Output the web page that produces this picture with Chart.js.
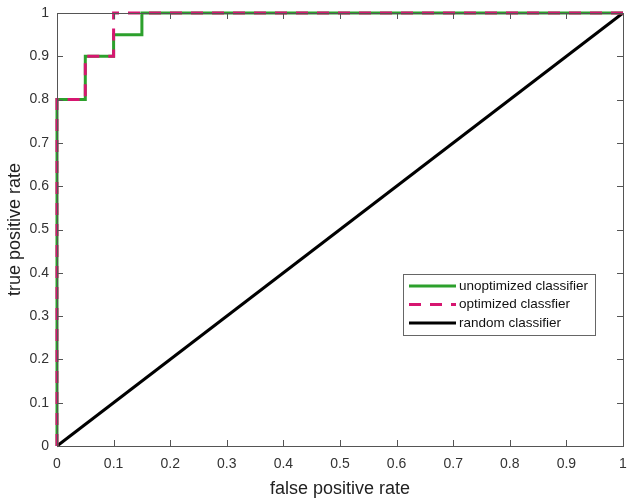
<!DOCTYPE html>
<html>
<head>
<meta charset="utf-8">
<script src="https://cdn.jsdelivr.net/npm/chart.js@4.4.1/dist/chart.umd.min.js"></script>
<style>
  html, body { margin: 0; padding: 0; background: #fff; }
  #wrap { width: 640px; height: 504px; }
</style>
</head>
<body>
<div id="wrap"><canvas id="roc" width="640" height="504"></canvas></div>
<script>
// roc curves
var unoptFpr = [0, 0, 0.05, 0.05, 0.1, 0.1, 0.15, 0.15, 1];
var unoptTpr = [0, 0.8, 0.8, 0.9, 0.9, 0.95, 0.95, 1, 1];
var optFpr = [0, 0, 0.05, 0.05, 0.1, 0.1, 1];
var optTpr = [0, 0.8, 0.8, 0.9, 0.9, 1, 1];
var randFpr = [0, 1];
var randTpr = [0, 1];
var tickValues = [0, 0.1, 0.2, 0.3, 0.4, 0.5, 0.6, 0.7, 0.8, 0.9, 1];
var seriesNames = ['unoptimized classifier', 'optimized classfier', 'random classifier'];

var green = 'rgb(44,160,44)';
var pink = 'rgb(214,22,112)';
var FONT = '"Liberation Sans", Arial, sans-serif';

function pts(xs, ys) {
	var out = [];
	for (var i = 0; i < xs.length; i++) {
		out.push({ x: xs[i], y: ys[i] });
	}
	return out;
}

// matlab style box + inward ticks + legend
var boxPlugin = {
	id: 'box',
	afterDraw: function (chart) {
		var c = chart.ctx, a = chart.chartArea;
		var xs = chart.scales.x, ys = chart.scales.y;
		c.save();
		c.strokeStyle = '#555';
		c.lineWidth = 1;
		c.strokeRect(a.left + 0.5, a.top + 0.5, a.right - a.left, a.bottom - a.top);
		c.beginPath();
		tickValues.forEach(function (v) {
			var px = Math.round(xs.getPixelForValue(v)) + 0.5;
			c.moveTo(px, a.bottom); c.lineTo(px, a.bottom - 6);
			c.moveTo(px, a.top); c.lineTo(px, a.top + 6);
			var py = Math.round(ys.getPixelForValue(v)) + 0.5;
			c.moveTo(a.left, py); c.lineTo(a.left + 6, py);
			c.moveTo(a.right, py); c.lineTo(a.right - 6, py);
		});
		c.stroke();

		// legend
		var lx = 403, ly = 274, lw = 192, lh = 61;
		c.fillStyle = '#fff';
		c.fillRect(lx, ly, lw, lh);
		c.strokeStyle = '#666';
		c.strokeRect(lx + 0.5, ly + 0.5, lw, lh);
		var styles = [
			{ color: green, dash: [] },
			{ color: pink, dash: [12, 9] },
			{ color: '#000', dash: [] }
		];
		c.font = '13.5px ' + FONT;
		c.textBaseline = 'middle';
		for (var i = 0; i < 3; i++) {
			var yy = ly + 12 + i * 18.5;
			c.beginPath();
			c.setLineDash(styles[i].dash);
			c.strokeStyle = styles[i].color;
			c.lineWidth = 3;
			c.moveTo(lx + 6, yy); c.lineTo(lx + 53, yy);
			c.stroke();
			c.setLineDash([]);
			c.fillStyle = '#111';
			c.fillText(seriesNames[i], lx + 56, yy);
		}
		c.restore();
	}
};

var ctx = document.getElementById('roc').getContext('2d');
var rocChart = new Chart(ctx, {
	type: 'scatter',
	data: {
		datasets: [
			{
				label: seriesNames[2],
				data: pts(randFpr, randTpr),
				showLine: true,
				borderColor: '#000',
				borderWidth: 3,
				pointRadius: 0,
				order: 3
			},
			{
				label: seriesNames[0],
				data: pts(unoptFpr, unoptTpr),
				showLine: true,
				borderColor: green,
				borderWidth: 3,
				pointRadius: 0,
				order: 2
			},
			{
				label: seriesNames[1],
				data: pts(optFpr, optTpr),
				showLine: true,
				borderColor: pink,
				borderWidth: 3,
				borderDash: [12, 9],
				pointRadius: 0,
				order: 1
			}
		]
	},
	options: {
		responsive: false,
		animation: false,
		clip: false,
		layout: { padding: { top: 13, right: 17, left: 0, bottom: 0 } },
		plugins: {
			legend: { display: false },
			tooltip: { enabled: false }
		},
		scales: {
			x: {
				type: 'linear',
				min: 0, max: 1,
				afterFit: function (s) { s.height = 58; s.paddingLeft = 0; s.paddingRight = 0; },
				afterBuildTicks: function (s) { s.ticks = tickValues.map(function (v) { return { value: v }; }); },
				grid: { display: false, drawTicks: false },
				border: { display: false },
				ticks: { color: '#333', font: { family: FONT, size: 14 }, padding: 10, maxRotation: 0,
					callback: function (v) { return String(v); } },
				title: { display: true, text: 'false positive rate', color: '#222',
					font: { family: FONT, size: 18 }, padding: { top: 2 } }
			},
			y: {
				type: 'linear',
				min: 0, max: 1,
				afterFit: function (s) { s.width = 57; s.paddingTop = 0; s.paddingBottom = 0; },
				afterBuildTicks: function (s) { s.ticks = tickValues.map(function (v) { return { value: v }; }); },
				grid: { display: false, drawTicks: false },
				border: { display: false },
				ticks: { color: '#333', font: { family: FONT, size: 14 }, padding: 8,
					callback: function (v) { return String(v); } },
				title: { display: true, text: 'true positive rate', color: '#222',
					font: { family: FONT, size: 18 }, padding: { bottom: 2 } }
			}
		}
	},
	plugins: [boxPlugin]
});
</script>
</body>
</html>
